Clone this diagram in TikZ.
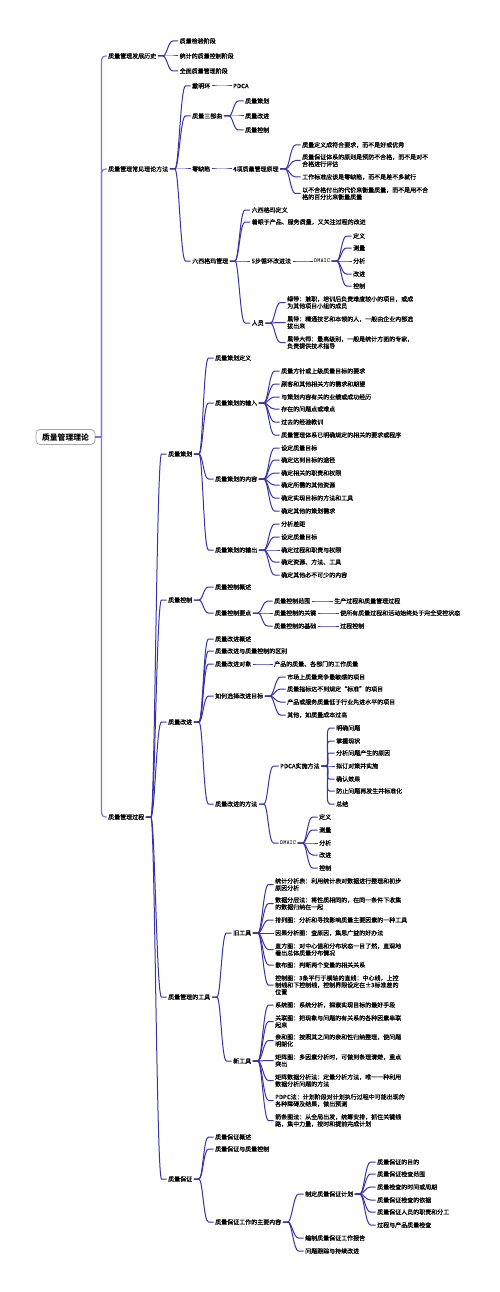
\documentclass[tikz,border=0pt]{standalone}
\usepackage{fontspec}
\setmainfont{Noto Sans CJK SC}[UprightFeatures={FakeBold=0.6}]
\usetikzlibrary{calc}
\definecolor{lkc}{HTML}{3A32A8}
\definecolor{rlkc}{HTML}{8075D8}
\newcommand\lk[2]{\draw[link] ($(#1.east)+(1.5,0)$) -- ++(5,0) .. controls +(4,0) and +(-5,0) .. ($(#2.west)+(-6.5,0)$) -- ($(#2.west)+(-1.5,0)$);}
\begin{document}
\begin{tikzpicture}[x=1pt,y=-1pt,
  t/.style={anchor=west,inner sep=0pt,font=\fontsize{6}{7}\selectfont,align=left,text=black},
  link/.style={draw=lkc,line width=1pt},
  rlink/.style={draw=rlkc,line width=1.2pt},
  rootbox/.style={draw=black!35,line width=0.8pt,fill=white,rounded corners=4pt,minimum width=59pt,minimum height=15pt,inner sep=0pt,font=\fontsize{7.8}{9}\selectfont\bfseries}]
\useasboundingbox (0,0) rectangle (500,1292);
\fill[white] (0,0) rectangle (500,1292);

% root
\node[rootbox] (R) at (65.5,437) {质量管理理论};
\node[t] (a1) at (108,56) {质量管理发展历史};
\node[t] (a2) at (108,169) {质量管理常见理论方法};
\node[t] (a3) at (108,817) {质量管理过程};
\draw[rlink] (R.east) -- (101.5,437);
\draw[rlink,rounded corners=4pt] (101.5,437) |- ($(a1.west)+(-1.5,0)$);
\draw[rlink,rounded corners=4pt] (101.5,437) |- ($(a2.west)+(-1.5,0)$);
\draw[rlink,rounded corners=4pt] (101.5,437) |- ($(a3.west)+(-1.5,0)$);

% history
\node[t] (b11) at (179.5,41) {质量检验阶段};
\node[t] (b12) at (179.5,56) {统计的质量控制阶段};
\node[t] (b13) at (179.5,71) {全面质量管理阶段};
\lk{a1}{b11}\lk{a1}{b12}\lk{a1}{b13}

% theory methods
\node[t] (b21) at (192,86) {戴明环};
\node[t] (b22) at (192,116) {质量三部曲};
\node[t] (b23) at (192,169) {零缺陷};
\node[t] (b24) at (192,261) {六西格玛管理};
\lk{a2}{b21}\lk{a2}{b22}\lk{a2}{b23}\lk{a2}{b24}

\node[t] (c1) at (233,86) {PDCA};
\lk{b21}{c1}
\node[t] (c2a) at (245,101) {质量策划};
\node[t] (c2b) at (245,116) {质量改进};
\node[t] (c2c) at (245,130) {质量控制};
\lk{b22}{c2a}\lk{b22}{c2b}\lk{b22}{c2c}

\node[t] (c3) at (233,169) {4项质量管理原理};
\lk{b23}{c3}
\node[t] (d1) at (302,145) {质量定义成符合要求，而不是好或优秀};
\node[t] (d2) at (302,160.5) {质量保证体系的原则是预防不合格，而不是对不\\合格进行评估};
\node[t] (d3) at (302,177) {工作标准应该是零缺陷，而不是差不多就行};
\node[t] (d4) at (302,193.5) {以不合格付出的代价来衡量质量，而不是用不合\\格的百分比来衡量质量};
\lk{c3}{d1}\lk{c3}{d2}\lk{c3}{d3}\lk{c3}{d4}

\node[t] (c4a) at (251.5,210) {六西格玛定义};
\node[t] (c4b) at (251.5,222) {着眼于产品、服务质量，又关注过程的改进};
\node[t] (c4c) at (251.5,261) {5步循环改进法};
\node[t] (c4d) at (251.5,323) {人员};
\lk{b24}{c4a}\lk{b24}{c4b}\lk{b24}{c4c}\lk{b24}{c4d}

\node[t,font=\fontsize{6}{7}\ttfamily\bfseries] (e1) at (314,261) {DMAIC};
\lk{c4c}{e1}
\node[t] (f1) at (353,236) {定义};
\node[t] (f2) at (353,248) {测量};
\node[t] (f3) at (353,261) {分析};
\node[t] (f4) at (353,274) {改进};
\node[t] (f5) at (353,286) {控制};
\lk{e1}{f1}\lk{e1}{f2}\lk{e1}{f3}\lk{e1}{f4}\lk{e1}{f5}

\node[t] (g1) at (287,302.5) {绿带：兼职，培训后负责难度较小的项目，或成\\为其他项目小组的成员};
\node[t] (g2) at (287,322.5) {黑带：精通技艺和本领的人，一般由企业内部选\\拔出来};
\node[t] (g3) at (287,342.5) {黑带大师：最高级别，一般是统计方面的专家，\\负责提供技术指导};
\lk{c4d}{g1}\lk{c4d}{g2}\lk{c4d}{g3}

% process
\node[t] (h1) at (168,454) {质量策划};
\node[t] (h2) at (168,600) {质量控制};
\node[t] (h3) at (168,722) {质量改进};
\node[t] (h4) at (168,997) {质量管理的工具};
\node[t] (h5) at (168,1179) {质量保证};
\lk{a3}{h1}\lk{a3}{h2}\lk{a3}{h3}\lk{a3}{h4}\lk{a3}{h5}

% planning
\node[t] (i1) at (215,358) {质量策划定义};
\node[t] (i2) at (215,403) {质量策划的输入};
\node[t] (i3) at (215,479) {质量策划的内容};
\node[t] (i4) at (215,550) {质量策划的输出};
\lk{h1}{i1}\lk{h1}{i2}\lk{h1}{i3}\lk{h1}{i4}

\node[t] (i2a) at (281,371) {质量方针或上级质量目标的要求};
\node[t] (i2b) at (281,384) {顾客和其他相关方的需求和期望};
\node[t] (i2c) at (281,397) {与策划内容有关的业绩或成功经历};
\node[t] (i2d) at (281,409) {存在的问题点或难点};
\node[t] (i2e) at (281,422) {过去的经验教训};
\node[t] (i2f) at (281,435) {质量管理体系已明确规定的相关的要求或程序};
\lk{i2}{i2a}\lk{i2}{i2b}\lk{i2}{i2c}\lk{i2}{i2d}\lk{i2}{i2e}\lk{i2}{i2f}

\node[t] (i3a) at (281,448) {设定质量目标};
\node[t] (i3b) at (281,460) {确定达到目标的途径};
\node[t] (i3c) at (281,473) {确定相关的职责和权限};
\node[t] (i3d) at (281,485) {确定所需的其他资源};
\node[t] (i3e) at (281,498) {确定实现目标的方法和工具};
\node[t] (i3f) at (281,511) {确定其他的策划需求};
\lk{i3}{i3a}\lk{i3}{i3b}\lk{i3}{i3c}\lk{i3}{i3d}\lk{i3}{i3e}\lk{i3}{i3f}

\node[t] (i4a) at (281,524) {分析差距};
\node[t] (i4b) at (281,537) {设定质量目标};
\node[t] (i4c) at (281,550) {确定过程和职责与权限};
\node[t] (i4d) at (281,562) {确定资源、方法、工具};
\node[t] (i4e) at (281,575) {确定其他必不可少的内容};
\lk{i4}{i4a}\lk{i4}{i4b}\lk{i4}{i4c}\lk{i4}{i4d}\lk{i4}{i4e}

% control
\node[t] (j1) at (215,587) {质量控制概述};
\node[t] (j2) at (215,613) {质量控制要点};
\lk{h2}{j1}\lk{h2}{j2}
\node[t] (k1) at (274,601) {质量控制范围};
\node[t] (k2) at (274,613) {质量控制的关键};
\node[t] (k3) at (274,626) {质量控制的基础};
\lk{j2}{k1}\lk{j2}{k2}\lk{j2}{k3}
\node[t] (k1a) at (334,601) {生产过程和质量管理过程};
\node[t] (k2a) at (340,613) {使所有质量过程和活动始终处于完全受控状态};
\node[t] (k3a) at (340,626) {过程控制};
\lk{k1}{k1a}\lk{k2}{k2a}\lk{k3}{k3a}

% improvement
\node[t] (m1) at (215,639) {质量改进概述};
\node[t] (m2) at (215,651) {质量改进与质量控制的区别};
\node[t] (m3) at (215,664) {质量改进对象};
\node[t] (m4) at (215,696) {如何选择改进目标};
\node[t] (m5) at (215,804) {质量改进的方法};
\lk{h3}{m1}\lk{h3}{m2}\lk{h3}{m3}\lk{h3}{m4}\lk{h3}{m5}
\node[t] (m3a) at (274,664) {产品的质量、各部门的工作质量};
\lk{m3}{m3a}
\node[t] (n1) at (287,677) {市场上质量竞争最敏感的项目};
\node[t] (n2) at (287,689) {质量指标达不到规定“标准”的项目};
\node[t] (n3) at (287,702) {产品或服务质量低于行业先进水平的项目};
\node[t] (n4) at (287,715) {其他，如质量成本过高};
\lk{m4}{n1}\lk{m4}{n2}\lk{m4}{n3}\lk{m4}{n4}

\node[t] (p1) at (280,766) {PDCA实施方法};
\node[t,font=\fontsize{6}{7}\ttfamily\bfseries] (p2) at (280,843) {DMAIC};
\lk{m5}{p1}\lk{m5}{p2}
\node[t] (q1) at (336,728) {明确问题};
\node[t] (q2) at (336,741) {掌握现状};
\node[t] (q3) at (336,753) {分析问题产生的原因};
\node[t] (q4) at (336,766) {拟订对策并实施};
\node[t] (q5) at (336,779) {确认效果};
\node[t] (q6) at (336,791) {防止问题再发生并标准化};
\node[t] (q7) at (336,804) {总结};
\lk{p1}{q1}\lk{p1}{q2}\lk{p1}{q3}\lk{p1}{q4}\lk{p1}{q5}\lk{p1}{q6}\lk{p1}{q7}
\node[t] (r1) at (319,817) {定义};
\node[t] (r2) at (319,830) {测量};
\node[t] (r3) at (319,843) {分析};
\node[t] (r4) at (319,855) {改进};
\node[t] (r5) at (319,868) {控制};
\lk{p2}{r1}\lk{p2}{r2}\lk{p2}{r3}\lk{p2}{r4}\lk{p2}{r5}

% tools
\node[t] (s1) at (233,933) {旧工具};
\node[t] (s2) at (233,1061) {新工具};
\lk{h4}{s1}\lk{h4}{s2}
\node[t] (s1a) at (275,884.5) {统计分析表：利用统计表对数据进行整理和初步\\原因分析};
\node[t] (s1b) at (275,903.5) {数据分层法：将性质相同的，在同一条件下收集\\的数据归纳在一起};
\node[t] (s1c) at (275,920) {排列图：分析和寻找影响质量主要因素的一种工具};
\node[t] (s1d) at (275,933) {因果分析图：查原因，集思广益的好办法};
\node[t] (s1e) at (275,949.5) {直方图：对中心值和分布状态一目了然，直观地\\看出总体质量分布情况};
\node[t] (s1f) at (275,965) {散布图：判断两个变量的相关关系};
\node[t] (s1g) at (275,985) {控制图：3条平行于横轴的直线：中心线，上控\\制线和下控制线，控制界限设定在±3标准差的\\位置};
\lk{s1}{s1a}\lk{s1}{s1b}\lk{s1}{s1c}\lk{s1}{s1d}\lk{s1}{s1e}\lk{s1}{s1f}\lk{s1}{s1g}
\node[t] (s2a) at (275,1005) {系统图：系统分析，探索实现目标的最好手段};
\node[t] (s2b) at (275,1021.5) {关联图：把现象与问题的有关系的各种因素串联\\起来};
\node[t] (s2c) at (275,1040.5) {亲和图：按照其之间的亲和性归纳整理，使问题\\明朗化};
\node[t] (s2d) at (275,1060.5) {矩阵图：多因素分析时，可做到条理清楚，重点\\突出};
\node[t] (s2e) at (275,1080.5) {矩阵数据分析法：定量分析方法，唯一一种利用\\数据分析问题的方法};
\node[t] (s2f) at (275,1100.5) {PDPC法：计划阶段对计划执行过程中可能出现的\\各种障碍及结果，做出预测};
\node[t] (s2g) at (275,1120.5) {箭条图法：从全局出发，统筹安排，抓住关键线\\路，集中力量，按时和提前完成计划};
\lk{s2}{s2a}\lk{s2}{s2b}\lk{s2}{s2c}\lk{s2}{s2d}\lk{s2}{s2e}\lk{s2}{s2f}\lk{s2}{s2g}

% assurance
\node[t] (u1) at (215,1137) {质量保证概述};
\node[t] (u2) at (215,1149) {质量保证与质量控制};
\node[t] (u3) at (215,1222) {质量保证工作的主要内容};
\lk{h5}{u1}\lk{h5}{u2}\lk{h5}{u3}
\node[t] (v1) at (305,1194) {制定质量保证计划};
\node[t] (v2) at (305,1238) {编制质量保证工作报告};
\node[t] (v3) at (305,1251) {问题跟踪与持续改进};
\lk{u3}{v1}\lk{u3}{v2}\lk{u3}{v3}
\node[t] (w1) at (377,1162) {质量保证的目的};
\node[t] (w2) at (377,1174) {质量保证检查范围};
\node[t] (w3) at (377,1187) {质量检查的时间或周期};
\node[t] (w4) at (377,1200) {质量保证检查的依据};
\node[t] (w5) at (377,1212) {质量保证人员的职责和分工};
\node[t] (w6) at (377,1225) {过程与产品质量检查};
\lk{v1}{w1}\lk{v1}{w2}\lk{v1}{w3}\lk{v1}{w4}\lk{v1}{w5}\lk{v1}{w6}
\end{tikzpicture}
\end{document}
